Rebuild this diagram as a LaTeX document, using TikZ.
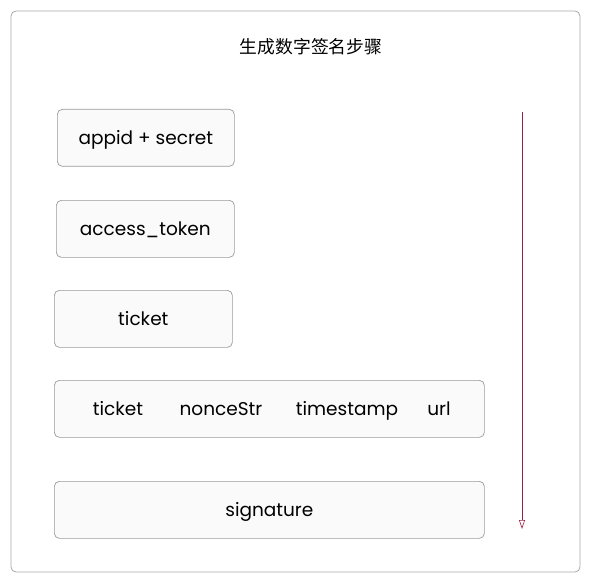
\documentclass[tikz,border=0pt]{standalone}
\usepackage{fontspec}
\setmainfont{Poppins}
\newfontfamily\cjkfont{Noto Sans CJK SC}
\usepackage{tikz}
\usetikzlibrary{arrows.meta, positioning}
\definecolor{FrameGray}{HTML}{A8A8A8}
\definecolor{BoxGray}{HTML}{9A9A9A}
\definecolor{BoxFill}{HTML}{FAFAFA}
\definecolor{Crimson}{HTML}{A01E40}
\tikzset{%
  frame/.style={%
    draw=FrameGray,%
    rounded corners=5pt,%
    line width=0.8pt%
  },
  stepbox/.style={%
    draw=BoxGray,%
    fill=BoxFill,%
    rectangle,%
    rounded corners=5pt,%
    line width=0.7pt,%
    minimum height=57pt,%
    anchor=north west,%
    inner sep=0pt,%
    text height=15pt,%
    text depth=2pt,%
    font={\fontsize{18.5}{22}\selectfont},%
    align=center%
  },
  label/.style={%
    font={\fontsize{18.5}{22}\selectfont},%
    text height=15pt,%
    text depth=2pt,%
    inner sep=0pt%
  },
  title/.style={%
    font={\cjkfont\fontsize{17.8}{21}\selectfont},%
    inner sep=0pt%
  },
  flow/.style={%
    draw=Crimson,%
    line width=0.6pt,%
    -{Triangle[open, length=9pt, width=6pt]}%
  },
}
\begin{document}
\begin{tikzpicture}[x=1pt, y=-1pt]
  \useasboundingbox (0,0) rectangle (591,588);
  \draw[frame] (11,11) rectangle (580,572);
  \node[title] (T) at (311,47) {生成数字签名步骤};

  \node[stepbox, minimum width=177pt] (S1) at (57,109) {appid + secret};
  \node[stepbox, minimum width=178pt] (S2) at (56,200) {access\_token};
  \node[stepbox, minimum width=178pt] (S3) at (54,290) {ticket};
  \node[stepbox, minimum width=430pt] (S4) at (54,380) {};
  \node[stepbox, minimum width=430pt] (S5) at (54,481) {signature};

  \node[label] (P1) at (118,409) {ticket};
  \node[label] (P2) at (221,409) {nonceStr};
  \node[label] (P3) at (347,409) {timestamp};
  \node[label] (P4) at (439,409) {url};

  \coordinate (Top) at (522,112);
  \coordinate (Bottom) at (522,529);
  \draw[flow] (Top) -- (Bottom);

\end{tikzpicture}
\end{document}
